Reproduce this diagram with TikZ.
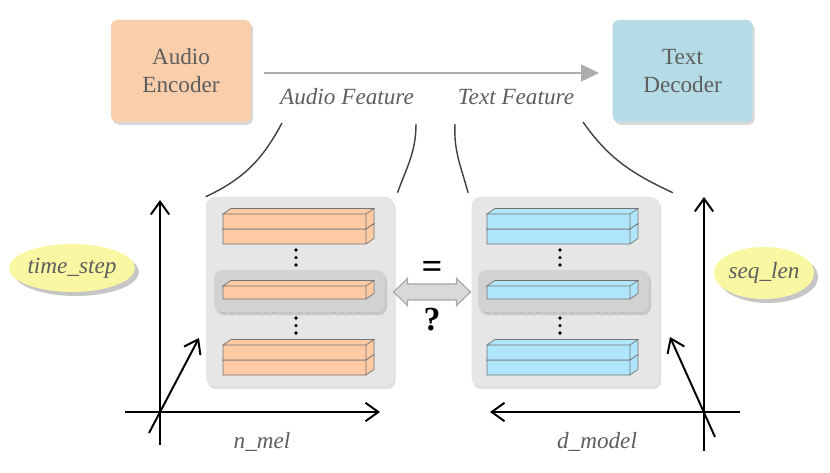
\documentclass[tikz,border=0pt]{standalone}
\usepackage{fontspec}
\setmainfont{Liberation Serif}
\usetikzlibrary{arrows.meta,positioning,shapes.geometric,shadows,calc}

\definecolor{encpeach}{HTML}{F9CFAB}
\definecolor{decblue}{HTML}{B5DCE6}
\definecolor{barpeach}{HTML}{FFCBA4}
\definecolor{barblue}{HTML}{B0E6FC}
\definecolor{panelgray}{HTML}{E6E6E6}
\definecolor{hlgray}{HTML}{D2D2D2}
\definecolor{tagyellow}{HTML}{FAF7A3}
\definecolor{labelgray}{HTML}{5E5E5E}

% one feature slab: x, y, height, fill
\newcommand{\featslab}[4]{%
  \filldraw[slab, fill=#4] (#1,#2) rectangle ++(3.575,#3)
    (#1,#2+#3) -- ++(0.2,0.14) -- ++(3.575,0) -- ++(-0.2,-0.14) -- cycle
    (#1+3.575,#2) -- ++(0.2,0.14) -- ++(0,#3) -- ++(-0.2,-0.14) -- cycle;}

\begin{document}
\begin{tikzpicture}[
  font=\fontsize{16.5}{20}\selectfont,
  box/.style={rounded corners=4pt, minimum width=3.5cm, minimum height=2.55cm, align=center,
    fill=#1, text=labelgray, drop shadow={opacity=0.3, shadow xshift=0.05cm, shadow yshift=-0.07cm}},
  panel/.style={rounded corners=6pt, fill=panelgray, minimum width=4.7cm, minimum height=4.725cm,
    drop shadow={opacity=0.25, shadow xshift=0.04cm, shadow yshift=-0.08cm}},
  hlbox/.style={rounded corners=6pt, fill=hlgray, minimum width=4.275cm, minimum height=1.05cm,
    drop shadow={opacity=0.3, shadow xshift=0.05cm, shadow yshift=-0.08cm}},
  slab/.style={draw=black!55, line width=0.5pt},
  feat/.style={font=\fontsize{16.5}{20}\selectfont\itshape, text=labelgray},
  tag/.style={ellipse, fill=tagyellow, font=\fontsize{16.5}{20}\selectfont\itshape, text=labelgray,
    inner sep=0pt, drop shadow={opacity=0.45, shadow xshift=0.1cm, shadow yshift=-0.1cm}},
  curve/.style={draw=black!75, line width=1pt},
  axis/.style={line width=1.4pt, -{Straight Barb[length=3.2mm,width=4.6mm,line width=1.4pt]}}
]
\useasboundingbox (0,0) rectangle (20.75,11.8);

% encoder and decoder
\node[box=encpeach] (enc) at (4.525,10.025) {Audio\\Encoder};
\node[box=decblue, right=9.025cm of enc] (dec) {Text\\Decoder};
\draw[draw=gray!65, line width=1.2pt, -{Triangle[length=4.5mm,width=4.2mm]},
  shorten <=0.33cm, shorten >=0.33cm] ($(enc.east)+(0,-0.05)$) -- ($(dec.west)+(0,-0.05)$);

\node[feat] (afeat) at (8.675,9.375) {Audio Feature};
\node[feat] (tfeat) at (12.9,9.375) {Text Feature};

% feature panels
\node[panel] (apanel) at (7.5,4.5125) {};
\node[panel, right=1.925cm of apanel] (tpanel) {};
\node[hlbox] (ahl) at (7.4875,4.525) {};
\node[hlbox] (thl) at (14.0875,4.525) {};
\draw[gray!55, dashed] ($(ahl.south west)+(0.2,0)$) -- ($(ahl.south east)+(-0.2,0)$);
\draw[gray!55, dashed] ($(thl.south west)+(0.2,0)$) -- ($(thl.south east)+(-0.2,0)$);

\foreach \bx/\bc in {5.575/barpeach, 12.175/barblue} {
  \featslab{\bx}{5.7}{0.375}{\bc}
  \featslab{\bx}{6.075}{0.375}{\bc}
  \featslab{\bx}{4.325}{0.325}{\bc}
  \featslab{\bx}{2.425}{0.375}{\bc}
  \featslab{\bx}{2.8}{0.375}{\bc}
  \foreach \dy in {5.55,5.36,5.175,3.85,3.66,3.475}
    \fill (\bx+1.825,\dy) circle (0.045);
}

% links from labels to panels
\draw[curve] (7.05,8.725) to[out=-118, in=25] (apanel.north west);
\draw[curve] (10.4,8.7) to[out=-90, in=70] ($(apanel.north east)+(0.08,0.1)$);
\draw[curve] (11.375,8.7) to[out=-93, in=105] ($(tpanel.north west)+(-0.08,0.1)$);
\draw[curve] (14.575,8.75) to[out=-55, in=155] ($(tpanel.north east)+(0.325,0.1)$);

% comparison
\coordinate (cmp) at (10.8,4.5);
\filldraw[shift={(cmp)}, draw=gray!70, fill=gray!30, line width=0.8pt, line join=miter]
  (-0.9625,0) -- (-0.6125,0.3375) -- (-0.6125,0.2) -- (0.6125,0.2) -- (0.6125,0.3375)
  -- (0.9625,0) -- (0.6125,-0.3375) -- (0.6125,-0.2) -- (-0.6125,-0.2) -- (-0.6125,-0.3375) -- cycle;
\node[font=\fontsize{26}{28}\selectfont\bfseries] (eq) at (10.8,5.05) {=};
\node[font=\fontsize{24}{26}\selectfont\bfseries] (qm) at (10.8,3.8) {?};

% axes
\coordinate (ao) at (4.0,1.5);
\draw[line width=1.4pt] (3.125,1.5) -- (ao);
\draw[axis] (ao) -- (9.5,1.5);
\draw[axis] (4.0,0.675) -- (4.0,6.8);
\draw[axis] (3.725,0.975) -- (4.975,3.35);

\coordinate (to) at (17.6,1.5);
\draw[line width=1.4pt] (18.5,1.5) -- (to);
\draw[axis] (to) -- (12.25,1.5);
\draw[axis] (17.6,0.525) -- (17.6,6.875);
\draw[axis] (17.875,0.875) -- (16.75,3.375);

\node[tag, minimum width=2.95cm, minimum height=1.2cm] (tstep) at (1.8,5.1) {time\_step};
\node[tag, minimum width=2.375cm, minimum height=1.3cm] (slen) at (19.1,4.975) {seq\_len};
\node[feat] (nmel) at (6.55,0.75) {n\_mel};
\node[feat] (dmod) at (14.925,0.75) {d\_model};
\end{tikzpicture}
\end{document}
